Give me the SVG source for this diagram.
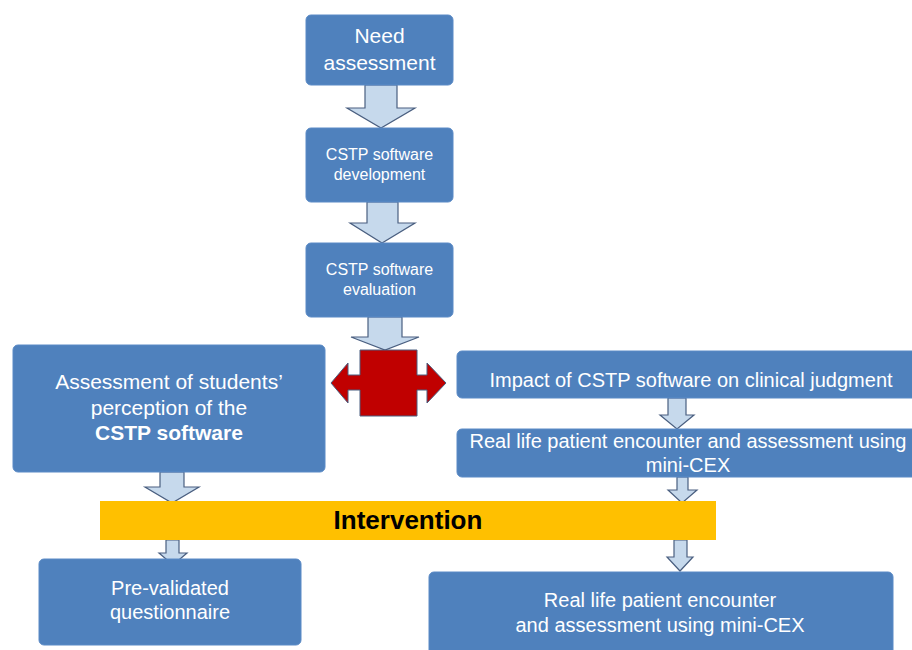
<svg xmlns="http://www.w3.org/2000/svg" width="912" height="650" viewBox="0 0 912 650">
<style>
.box{fill:#4F81BD;stroke:#5A8AC6;stroke-width:1}
.t{font-family:"Liberation Sans",Arial,sans-serif;fill:#FFFFFF;text-anchor:middle}
.arr{fill:#C6D9EC;stroke:#4A5F80;stroke-width:1.2;stroke-linejoin:miter}
</style>
<rect width="912" height="650" fill="#FFFFFF"/>
<g id="connectors">
<polygon class="arr" points="365,85 397,85 397,108 415,108 381,128 347,108 365,108"/>
<polygon class="arr" points="367,202 398,202 398,223 415,223 382,243 350,223 367,223"/>
<polygon class="arr" points="368,317 402,317 402,337 419,337 385,350 351,337 368,337"/>
<polygon class="arr" points="160,472 184,472 184,487 199,487 172,503 145,487 160,487"/>
<polygon class="arr" points="668,398 686,398 686,415 694,415 677,429 660,415 668,415"/>
<polygon class="arr" points="677,477 688,477 688,490 697,490 682,503 668,490 677,490"/>
<polygon class="arr" points="166,540 179,540 179,553 187,553 173,565 159,553 166,553"/>
<polygon class="arr" points="674,540 687,540 687,557 693,557 680,571 667,557 674,557"/>
</g>
<g id="need-assessment">
<rect class="box" x="306" y="15" width="147" height="70" rx="5"/>
<text class="t" x="379.5" y="43" font-size="21">Need</text>
<text class="t" x="379.5" y="70" font-size="21">assessment</text>
</g>
<g id="cstp-development">
<rect class="box" x="306" y="128" width="147" height="74" rx="5"/>
<text class="t" x="379.5" y="160" font-size="16">CSTP software</text>
<text class="t" x="379.5" y="180" font-size="16">development</text>
</g>
<g id="cstp-evaluation">
<rect class="box" x="306" y="243" width="147" height="74" rx="5"/>
<text class="t" x="379.5" y="275" font-size="16">CSTP software</text>
<text class="t" x="379.5" y="295" font-size="16">evaluation</text>
</g>
<g id="cross">
<polygon fill="#C00000" stroke="#4A5F80" stroke-width="1" points="360,350 417,350 417,375 427,375 427,363 446,383 427,403 427,390 417,390 417,416 360,416 360,390 348,390 348,403 331,383 348,363 348,375 360,375"/>
</g>
<g id="students-perception">
<rect class="box" x="13" y="345" width="312" height="127" rx="5"/>
<text class="t" x="169" y="389" font-size="21">Assessment of students’</text>
<text class="t" x="169" y="415" font-size="21">perception of the</text>
<text class="t" x="169" y="440" font-size="21" font-weight="bold">CSTP software</text>
</g>
<g id="impact">
<rect class="box" x="457" y="351" width="470" height="47" rx="5"/>
<text class="t" x="691" y="387" font-size="20">Impact of CSTP software on clinical judgment</text>
</g>
<g id="real-life-1">
<rect class="box" x="457" y="429" width="470" height="48" rx="5"/>
<text class="t" x="688" y="448" font-size="20">Real life patient encounter and assessment using</text>
<text class="t" x="688" y="472" font-size="20">mini-CEX</text>
</g>
<g id="intervention">
<rect x="100" y="501" width="616" height="39" fill="#FFC000"/>
<text x="408" y="529" font-family="'Liberation Sans',Arial,sans-serif" font-size="26" font-weight="bold" fill="#000000" text-anchor="middle">Intervention</text>
</g>
<g id="questionnaire">
<rect class="box" x="39" y="559" width="262" height="86" rx="5"/>
<text class="t" x="170" y="595" font-size="20">Pre-validated</text>
<text class="t" x="170" y="619" font-size="20">questionnaire</text>
</g>
<g id="real-life-2">
<rect class="box" x="429" y="572" width="464" height="95" rx="5"/>
<text class="t" x="660" y="607" font-size="20">Real life patient encounter</text>
<text class="t" x="660" y="632" font-size="20">and assessment using mini-CEX</text>
</g>
</svg>
